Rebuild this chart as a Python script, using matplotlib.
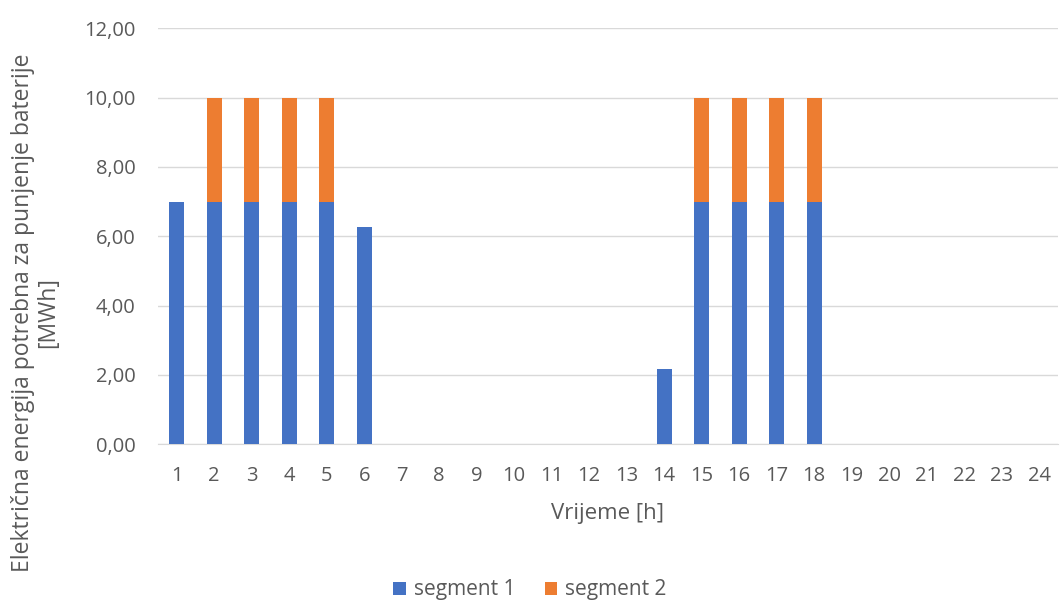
import numpy as np
import matplotlib
matplotlib.use('Agg')
import matplotlib.pyplot as plt

plt.rcParams['font.family'] = ['Open Sans', 'DejaVu Sans']

hours = [str(h) for h in range(1, 25)]
segment1 = [7, 7, 7, 7, 7, 6.27, 0, 0, 0, 0, 0, 0, 0, 2.17,
            7, 7, 7, 7, 0, 0, 0, 0, 0, 0]
segment2 = [0, 3, 3, 3, 3, 0, 0, 0, 0, 0, 0, 0, 0, 0,
            3, 3, 3, 3, 0, 0, 0, 0, 0, 0]
yticks = [0, 2, 4, 6, 8, 10, 12]

txt = '#595959'
fig = plt.figure(figsize=(10.6, 6.01), dpi=100)
ax = fig.add_axes([0.149, 0.261, 0.849, 0.692])

x = np.arange(1, 25)
ax.bar(x, segment1, width=0.4, color='#4472C4', label='segment 1', zorder=3)
ax.bar(x, segment2, width=0.4, bottom=segment1, color='#ED7D31', label='segment 2', zorder=3)

ax.set_xlim(0.5, 24.5)
ax.set_ylim(0, 12)
ax.set_xticks(x)
ax.set_xticklabels(hours)
ax.set_yticks(yticks)
ax.set_yticklabels([f'{v:.2f}'.replace('.', ',') for v in yticks])
ax.yaxis.grid(True, color='#D9D9D9', linewidth=1, zorder=0)
for s in ['top', 'right', 'left']:
    ax.spines[s].set_visible(False)
ax.spines['bottom'].set_color('#D9D9D9')
ax.tick_params(axis='both', length=0, labelsize=14.5, colors=txt)
ax.tick_params(axis='x', pad=16)
ax.tick_params(axis='y', pad=16)

ax.set_xlabel('Vrijeme [h]', fontsize=16, color=txt, labelpad=12)
ax.set_ylabel('Električna energija potrebna za punjenje baterije\n[MWh]',
              fontsize=16.5, color=txt, linespacing=1.05, va='center', ha='center')
ax.yaxis.set_label_coords(-0.136, 0.317)

fig.legend(loc='center', bbox_to_anchor=(0.5, 1 - 590 / 601), ncol=2, frameon=False,
           fontsize=15, labelcolor=txt, handlelength=0.6, handleheight=0.6,
           handletextpad=0.4, columnspacing=1.4, borderpad=0)

fig.savefig('out.png', dpi=100)
